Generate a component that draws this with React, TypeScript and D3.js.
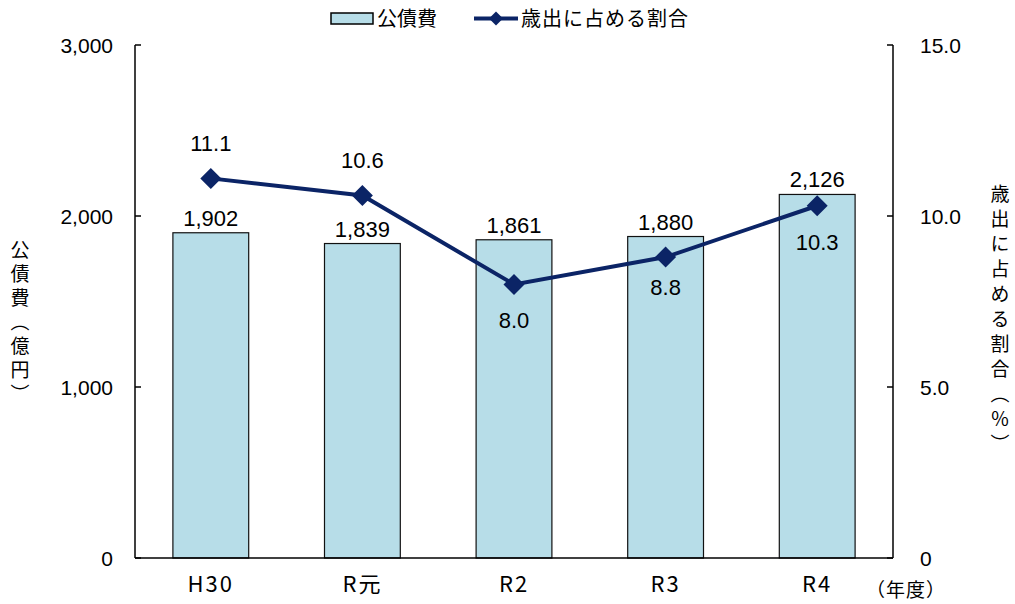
import React from 'react';
import * as d3 from 'd3';

const categories = ['H30', 'R元', 'R2', 'R3', 'R4'];
const bondCost = [1902, 1839, 1861, 1880, 2126];
const shareOfSpending = [11.1, 10.6, 8.0, 8.8, 10.3];
const leftTicks = [0, 1000, 2000, 3000];
const rightTicks = [0, 5, 10, 15];

const jp = '"Noto Sans CJK JP", "Noto Sans", sans-serif';
const num = '"Liberation Sans", Arial, sans-serif';
const barFill = '#B7DDE8';
const lineColor = '#0B2466';
// baseline offset of each percentage label from its marker
const shareLabelDy = [-27, -27, 44, 38, 44];

const App = () => {
  const width = 1015, height = 604;
  const left = 135, right = 893, top = 45, bottom = 558;

  const x = d3.scaleBand().domain(categories).range([left, right])
    .paddingInner(0.5).paddingOuter(0.25);
  const yL = d3.scaleLinear().domain([0, 3000]).range([bottom, top]);
  const yR = d3.scaleLinear().domain([0, 15]).range([bottom, top]);

  const cx = (c: string) => (x(c) as number) + x.bandwidth() / 2;
  const line = d3.line<number>()
    .x((_, i) => cx(categories[i]))
    .y(d => yR(d));

  const diamond = (px: number, py: number, r: number) =>
    `M${px},${py - r}L${px + r},${py}L${px},${py + r}L${px - r},${py}Z`;

  return (
    <svg width={width} height={height} style={{ position: 'absolute', left: 0, top: 0 }}>
      {/* bars */}
      {bondCost.map((v, i) => (
        <g key={i}>
          <rect x={x(categories[i])} y={yL(v)} width={x.bandwidth()} height={bottom - yL(v)}
            fill={barFill} stroke="#111" strokeWidth={1.2} />
          <text x={cx(categories[i])} y={yL(v) - 7} textAnchor="middle" fontFamily={num} fontSize={22}>
            {d3.format(',')(v)}
          </text>
        </g>
      ))}

      {/* axes */}
      <line x1={left} x2={left} y1={top} y2={bottom} stroke="#000" strokeWidth={1.5} />
      <line x1={right} x2={right} y1={top} y2={bottom} stroke="#000" strokeWidth={1.5} />
      <line x1={left} x2={right} y1={bottom} y2={bottom} stroke="#000" strokeWidth={1.5} />
      {leftTicks.map(t => (
        <g key={t}>
          <line x1={left} x2={left + 6} y1={yL(t)} y2={yL(t)} stroke="#000" strokeWidth={1.5} />
          <text x={113} y={yL(t) + 8} textAnchor="end" fontFamily={num} fontSize={21}>
            {d3.format(',')(t)}
          </text>
        </g>
      ))}
      {rightTicks.map(t => (
        <g key={t}>
          <line x1={right - 6} x2={right} y1={yR(t)} y2={yR(t)} stroke="#000" strokeWidth={1.5} />
          <text x={920} y={yR(t) + 8} textAnchor="start" fontFamily={num} fontSize={21}>
            {t === 0 ? '0' : d3.format('.1f')(t)}
          </text>
        </g>
      ))}
      {categories.map(c => (
        <text key={c} x={cx(c)} y={592} textAnchor="middle" fontFamily={jp} fontSize={22}
          letterSpacing={2}>{c}</text>
      ))}
      <text x={906} y={597} textAnchor="middle" fontFamily={jp} fontSize={19}
        letterSpacing={1}>（年度）</text>

      {/* line series */}
      <path d={line(shareOfSpending) ?? ''} fill="none" stroke={lineColor} strokeWidth={4} />
      {shareOfSpending.map((v, i) => (
        <g key={i}>
          <path d={diamond(cx(categories[i]), yR(v), 10.5)} fill={lineColor} />
          <text x={cx(categories[i])} y={yR(v) + shareLabelDy[i]}
            textAnchor="middle" fontFamily={num} fontSize={22}>
            {d3.format('.1f')(v)}
          </text>
        </g>
      ))}

      {/* axis titles */}
      <text x={20} y={240} fontFamily={jp} fontSize={19} letterSpacing={5}
        style={{ writingMode: 'vertical-rl' }}>公債費（億円）</text>
      <text x={1000} y={184} fontFamily={jp} fontSize={19} letterSpacing={6}
        style={{ writingMode: 'vertical-rl' }}>歳出に占める割合（％）</text>

      {/* legend */}
      <rect x={331} y={13} width={42} height={11} fill={barFill} stroke="#000" strokeWidth={1.5} />
      <text x={377} y={26} fontFamily={jp} fontSize={20}>公債費</text>
      <line x1={474} x2={518} y1={18.5} y2={18.5} stroke={lineColor} strokeWidth={4} />
      <path d={diamond(496, 18.5, 7)} fill={lineColor} />
      <text x={521} y={26} fontFamily={jp} fontSize={20} letterSpacing={1}>歳出に占める割合</text>
    </svg>
  );
};

export default App;
